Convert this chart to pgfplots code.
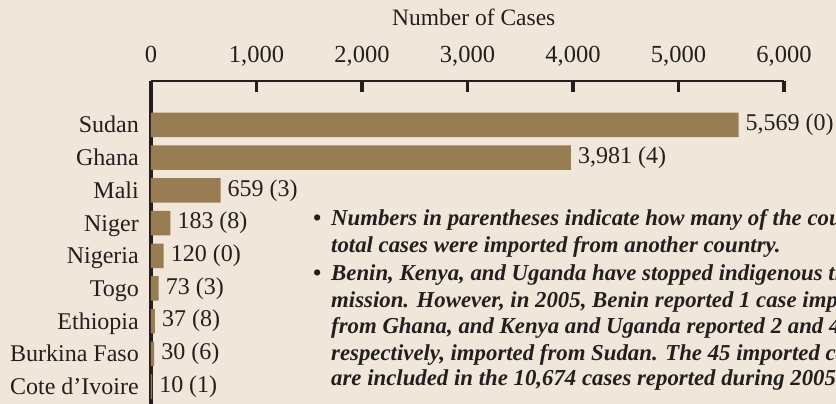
\documentclass[border=0pt]{standalone}
\usepackage{pgfplots}
\pgfplotsset{compat=1.18}
\usepackage{fontspec}
\setmainfont{Liberation Serif}
\definecolor{bg}{HTML}{F0E7DA}
\definecolor{barc}{HTML}{987C52}
\definecolor{ink}{HTML}{231F20}
\begin{document}
\begin{tikzpicture}
\useasboundingbox (0pt,0pt) rectangle (836pt,-404pt);
\fill[bg] (0pt,0pt) rectangle (836pt,-404pt);
\clip (0pt,0pt) rectangle (836pt,-404pt);
\begin{axis}[
  at={(151pt,-81pt)}, anchor=north west,
  scale only axis, width=633pt, height=328.5pt,
  xmin=0, xmax=6000, ymin=-0.7, ymax=9.345,
  axis x line=top, axis y line=left,
  axis line style={-},
  every outer x axis line/.append style={-},
  every outer y axis line/.append style={-},
  x axis line style={-, line width=1.3pt, draw=ink},
  y axis line style={-, line width=3.8pt, draw=ink},
  xtick={0,1000,2000,3000,4000,5000,6000},
  tick align=inside,
  major tick length=11pt,
  x tick style={line width=3.2pt, draw=ink},
  ytick={0,1,2,3,4,5,6,7,8},
  yticklabels={Cote d’Ivoire, Burkina Faso, Ethiopia, Togo, Nigeria, Niger, Mali, Ghana, Sudan},
  y tick style={draw=none},
  /pgf/number format/.cd, assume math mode=true, 1000 sep={,},
  /pgfplots/.cd,
  xticklabel style={anchor=base, inner sep=0pt, yshift=18pt, font=\fontsize{24.5}{28}\selectfont, text=ink},
  yticklabel style={anchor=base east, inner sep=0pt, yshift=-8pt, xshift=-1pt, font=\fontsize{24}{28}\selectfont, text=ink},
  xlabel={Number of Cases},
  xlabel style={at={(axis description cs:0.51,1)}, anchor=center, yshift=64pt, font=\fontsize{23.5}{27}\selectfont, text=ink},
  xbar, bar width=24.5pt,
]
\addplot[fill=barc, draw=none, nodes near coords, point meta=explicit symbolic,
  every node near coord/.style={anchor=west, inner sep=0pt, xshift=7pt, font=\fontsize{24}{28}\selectfont, text=ink}]
  table[col sep=semicolon, x=x, y=y, meta=label] {
x;y;label
5569;8;5,569 (0)
3981;7;3,981 (4)
659;6;659 (3)
183;5;183 (8)
120;4;120 (0)
73;3;73 (3)
37;2;37 (8)
30;1;30 (6)
10;0;10 (1)
};
\end{axis}
\begin{scope}[every node/.style={anchor=base west, inner sep=0pt, font=\fontsize{22.8}{26}\selectfont\bfseries\itshape, text=ink}]
\node at (313pt,-225pt) {\textbullet};
\node at (331pt,-225pt) {Numbers in parentheses indicate how many of the country’s};
\node at (331pt,-252pt) {total cases were imported from another country.};
\node at (313pt,-280pt) {\textbullet};
\node at (331pt,-280pt) {Benin, Kenya, and Uganda have stopped indigenous trans-};
\node at (331pt,-307pt) {mission. However, in 2005, Benin reported 1 case imported};
\node at (331pt,-333pt) {from Ghana, and Kenya and Uganda reported 2 and 42 cases,};
\node at (331pt,-360pt) {respectively, imported from Sudan. The 45 imported cases};
\node at (331pt,-385pt) {are included in the 10,674 cases reported during 2005.};
\end{scope}
\end{tikzpicture}
\end{document}
